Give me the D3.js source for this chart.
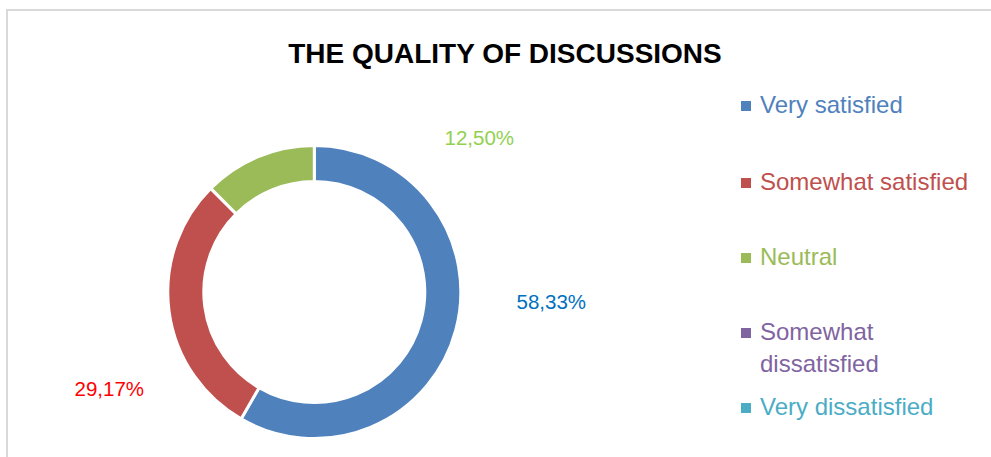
<!DOCTYPE html>
<html>
<head>
<meta charset="utf-8">
<script src="https://cdn.jsdelivr.net/npm/d3@7"></script>
<style>
  body { margin: 0; background: #fff; }
  svg { display: block; font-family: "Liberation Sans", Arial, sans-serif; }
</style>
</head>
<body>
<div id="donut_chart"></div>
<script>
// chart data
var categories = ["Very satisfied", "Somewhat satisfied", "Neutral", "Somewhat dissatisfied", "Very dissatisfied"];
var shares = [58.33, 29.17, 12.50, 0, 0];
var shareLabels = ["58,33%", "29,17%", "12,50%", "", ""];
var colors = ["#4F81BD", "#C0504D", "#9BBB59", "#8064A2", "#4BACC6"];
var labelColors = ["#0070C0", "#FF0000", "#92D050", "#7030A0", "#00B0F0"];
var title = "THE QUALITY OF DISCUSSIONS";

var width = 991,
    height = 457,
    cx = 314.3, cy = 292,
    outerR = 146.5, innerR = 110.5;

var svg = d3.select("#donut_chart")
  .append("svg")
    .attr("width", width)
    .attr("height", height);

// chart area border (only top and left visible in the crop)
svg.append("rect")
    .attr("x", 7)
    .attr("y", 10)
    .attr("width", 1100)
    .attr("height", 600)
    .attr("fill", "none")
    .attr("stroke", "#d9d9d9")
    .attr("stroke-width", 2);

// title
svg.append("text")
    .attr("x", 505)
    .attr("y", 63)
    .attr("text-anchor", "middle")
    .style("font-size", "28px")
    .style("font-weight", "bold")
    .attr("fill", "#000")
    .text(title);

var data = categories.map(function(c, i) {
  return {name: c, value: shares[i], label: shareLabels[i], color: colors[i], labelColor: labelColors[i]};
});

var pie = d3.pie()
  .sort(null)
  .value(function(d) { return d.value; });

var arc = d3.arc()
  .innerRadius(innerR)
  .outerRadius(outerR);

var g = svg.append("g")
  .attr("transform", "translate(" + cx + "," + cy + ")");

var arcs = pie(data);

g.selectAll("path")
  .data(arcs.filter(function(d) { return d.data.value > 0; }))
  .enter()
  .append("path")
    .attr("d", arc)
    .attr("fill", function(d) { return d.data.color; })
    .attr("stroke", "#fff")
    .attr("stroke-width", 3);

// data labels, pushed outside the ring along the slice mid-angle
var labelOffset = {"Very satisfied": [237, 17], "Somewhat satisfied": [-205, 104], "Neutral": [165, -147]};
g.selectAll("text.lbl")
  .data(arcs.filter(function(d) { return d.data.value > 0; }))
  .enter()
  .append("text")
    .attr("class", "lbl")
    .attr("x", function(d) { return labelOffset[d.data.name][0]; })
    .attr("y", function(d) { return labelOffset[d.data.name][1]; })
    .attr("text-anchor", "middle")
    .style("font-size", "20.5px")
    .attr("fill", function(d) { return d.data.labelColor; })
    .text(function(d) { return d.data.label; });

// legend
var legendY = [113, 190, 265, 340, 415];
var legendLines = [["Very satisfied"], ["Somewhat satisfied"], ["Neutral"], ["Somewhat", "dissatisfied"], ["Very dissatisfied"]];

var legend = svg.append("g");
var item = legend.selectAll("g")
  .data(data)
  .enter()
  .append("g")
    .attr("transform", function(d, i) { return "translate(741," + legendY[i] + ")"; });

item.append("rect")
    .attr("x", 0)
    .attr("y", -12)
    .attr("width", 10)
    .attr("height", 10)
    .attr("fill", function(d) { return d.color; });

item.append("text")
    .attr("x", 19)
    .attr("y", 0)
    .style("font-size", "24px")
    .attr("fill", function(d) { return d.color; })
    .selectAll("tspan")
    .data(function(d, i) { return legendLines[i]; })
    .enter()
    .append("tspan")
      .attr("x", 19)
      .attr("dy", function(d, j) { return j === 0 ? 0 : 31.7; })
      .text(function(d) { return d; });
</script>
</body>
</html>
